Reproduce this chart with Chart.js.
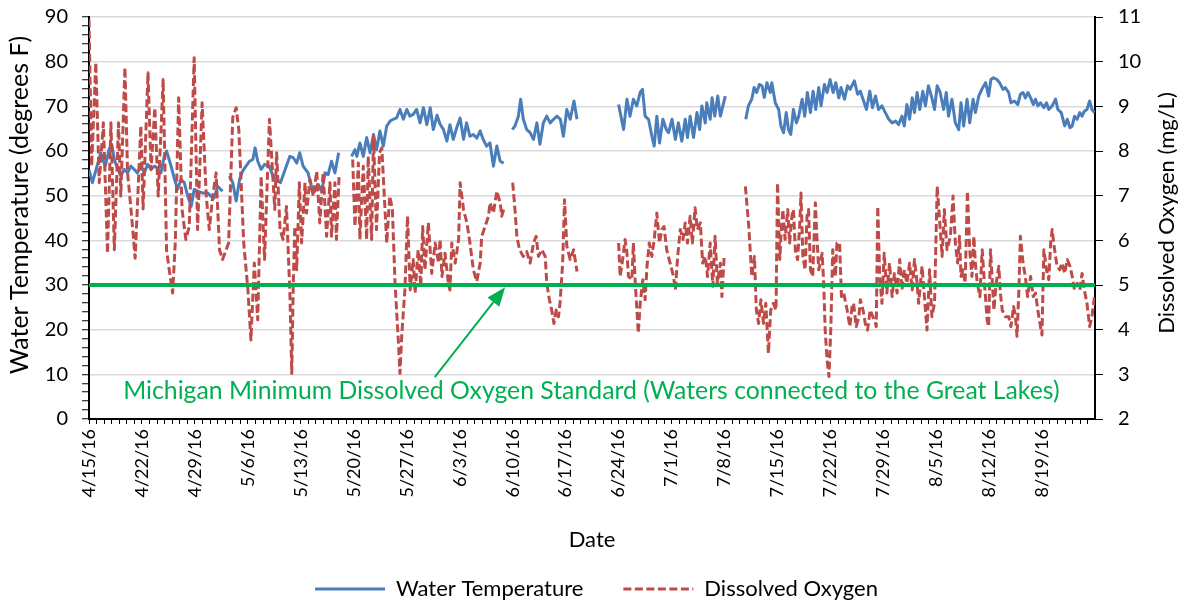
<!DOCTYPE html>
<html>
<head>
<meta charset="utf-8">
<script src="https://cdn.jsdelivr.net/npm/chart.js@4.4.1/dist/chart.umd.min.js"></script>
<style>
  html, body { margin: 0; padding: 0; background: #fff; }
  #wrap { width: 1193px; height: 605px; position: relative; }
</style>
</head>
<body>
<div id="wrap"><canvas id="chart"></canvas></div>
<script>
// -------- data (x = days since 4/15/16, null = logger gap) --------
const startDate = [2016, 3, 15];
const xMaxDay = 132.96;
const tickEveryDays = 7;

// Water temperature, degrees F
const tempReadings = [
  [0.0,55.8],[0.45,52.9],[1.55,59.6],[2.15,56.6],[2.65,60.3],[3.0,61.5],[3.35,58.1],[3.75,56.2],[4.2,54.4],[4.65,55.9],
  [5.1,55.1],[5.55,56.6],[5.95,55.9],[6.4,55.1],[6.85,56.6],[7.3,55.1],[7.75,57.0],[8.2,55.9],[8.65,56.6],[9.1,56.2],
  [9.5,55.1],[9.95,58.8],[10.25,60.0],[10.85,56.6],[11.25,54.0],[11.7,51.4],[12.15,53.6],[12.6,52.9],[13.05,49.9],[13.5,47.6],
  [13.9,51.4],[14.35,51.0],[15.0,50.6],[15.7,50.6],[16.1,49.9],[16.55,49.5],[17.0,52.1],[17.65,51.0],[18.1,null],[18.55,54.4],
  [19.0,52.9],[19.45,48.8],[19.9,53.6],[20.3,55.5],[20.75,56.6],[21.2,57.7],[21.65,58.1],[21.95,60.7],[22.3,57.7],[22.75,55.9],
  [23.2,57.0],[23.85,56.6],[24.3,54.4],[25.3,52.9],[26.55,58.8],[27.0,58.5],[27.45,57.3],[27.85,59.6],[28.3,56.6],[28.95,55.1],
  [29.4,52.1],[29.85,51.0],[30.3,52.5],[30.75,51.0],[31.2,55.1],[31.6,54.7],[32.05,57.7],[32.5,55.1],[33.0,59.6],[33.8,null],
  [34.7,58.8],[35.15,60.3],[35.4,58.8],[35.8,61.8],[36.25,58.8],[36.7,63.0],[37.15,59.6],[37.6,63.7],[38.0,60.3],[38.45,64.5],
  [38.9,61.1],[39.35,65.6],[39.8,66.7],[40.2,67.1],[40.65,67.4],[41.1,69.3],[41.55,67.1],[42.0,69.3],[42.4,67.8],[42.85,68.2],
  [43.3,69.3],[43.75,66.3],[44.2,69.7],[44.65,65.9],[45.1,69.7],[45.5,64.8],[46.0,68.0],[46.4,66.0],[46.85,64.8],[47.3,62.2],
  [47.7,65.9],[48.15,62.6],[48.6,65.2],[49.05,67.4],[49.5,62.6],[49.9,66.3],[50.35,63.3],[50.8,63.7],[51.25,62.9],[51.7,64.5],
  [52.1,62.6],[52.55,61.1],[53.0,61.8],[53.45,56.6],[53.9,61.1],[54.35,57.7],[54.8,57.3],[55.4,null],[55.95,64.8],[56.3,65.6],
  [56.75,67.8],[57.05,71.6],[57.4,67.1],[57.85,64.8],[58.3,64.1],[58.75,62.6],[59.2,66.3],[59.6,61.5],[60.05,66.3],[60.5,67.8],
  [60.95,66.3],[61.4,67.1],[61.85,67.8],[62.3,67.1],[62.7,63.3],[63.15,69.3],[63.6,67.1],[64.1,71.2],[64.5,67.1],[67.0,null],
  [70.0,70.4],[70.3,67.8],[70.65,64.8],[71.1,71.6],[71.5,67.8],[71.95,71.6],[72.4,70.1],[72.85,73.1],[73.15,73.8],[73.5,67.8],
  [73.95,67.1],[74.4,63.3],[74.7,61.1],[75.05,67.8],[75.4,61.8],[75.85,67.1],[76.3,64.8],[76.6,64.1],[77.05,67.1],[77.5,62.6],
  [77.9,66.3],[78.35,62.2],[78.8,67.1],[79.1,63.0],[79.45,67.8],[79.9,63.0],[80.35,68.6],[80.7,64.8],[81.0,70.1],[81.45,66.3],
  [81.65,70.8],[82.1,67.1],[82.35,71.9],[82.7,67.8],[83.1,72.3],[83.45,67.8],[84.1,72.3],[85.5,null],[86.8,67.1],[87.15,70.1],
  [87.6,71.6],[87.9,74.2],[88.25,73.1],[88.6,74.9],[88.95,74.6],[89.25,72.0],[89.6,75.3],[90.05,73.1],[90.25,75.3],[90.7,70.8],
  [91.15,69.3],[91.45,65.6],[91.8,64.1],[92.15,68.6],[92.45,64.8],[92.75,63.7],[93.1,69.3],[93.5,66.3],[93.8,67.8],[94.25,71.6],
  [94.6,67.8],[94.95,73.1],[95.35,68.6],[95.7,73.4],[96.05,69.3],[96.45,74.2],[96.75,70.1],[97.2,74.9],[97.55,73.1],[97.95,76.0],
  [98.35,73.1],[98.7,75.3],[99.1,71.9],[99.4,74.2],[99.85,71.6],[100.25,74.6],[100.6,73.8],[101.15,75.7],[101.6,72.7],[101.95,73.4],
  [102.3,71.6],[102.75,69.3],[103.2,73.4],[103.55,69.7],[103.95,72.3],[104.35,69.3],[104.8,70.1],[105.25,68.6],[105.7,67.1],[106.15,66.3],
  [106.6,66.7],[107.0,65.9],[107.45,67.8],[107.75,65.6],[108.1,70.4],[108.45,67.1],[108.8,71.9],[109.1,68.6],[109.45,73.1],[109.8,69.3],
  [110.2,73.4],[110.55,70.1],[110.95,74.6],[111.4,71.9],[111.75,69.3],[112.1,74.6],[112.5,73.1],[112.95,69.3],[113.3,73.1],[113.6,67.8],
  [114.05,71.6],[114.5,66.3],[114.95,64.8],[115.25,70.8],[115.6,65.6],[116.05,71.6],[116.4,66.3],[116.85,71.6],[117.15,68.6],[117.6,72.3],
  [118.0,73.8],[118.5,75.3],[118.9,72.3],[119.2,76.0],[119.55,76.4],[120.0,76.0],[120.35,75.3],[120.8,73.8],[121.1,74.2],[121.55,73.1],
  [121.85,70.8],[122.3,71.2],[122.75,70.4],[123.1,72.7],[123.45,73.1],[123.75,71.9],[124.1,73.1],[124.45,71.9],[124.8,70.4],[125.1,71.6],
  [125.4,70.1],[125.75,70.8],[126.2,69.7],[126.55,70.8],[126.85,69.3],[127.3,70.1],[127.75,71.6],[128.05,69.3],[128.5,68.6],[128.95,65.6],
  [129.3,67.1],[129.65,65.2],[129.95,65.6],[130.25,67.8],[130.6,67.1],[130.95,68.6],[131.25,67.8],[131.55,68.9],[131.9,69.3],[132.25,71.2],
  [132.55,69.3],[132.9,68.6]
];

// Dissolved oxygen, mg/L
const doReadings = [
  [0.0,10.95],[0.35,7.66],[0.9,9.98],[1.35,7.29],[1.9,8.63],[2.45,5.71],[2.9,8.63],[3.35,5.79],[3.9,8.63],[4.2,6.99],
  [4.75,9.87],[5.1,7.51],[5.6,6.6],[6.1,5.6],[6.85,8.56],[7.15,6.7],[7.8,9.75],[8.2,7.58],[8.7,8.97],[9.15,6.99],
  [9.8,9.6],[10.25,5.79],[10.6,5.34],[11.05,4.82],[11.4,5.94],[11.85,9.19],[12.3,6.69],[12.8,6.02],[13.25,6.31],[13.9,10.09],
  [14.35,6.24],[14.95,9.08],[15.5,6.99],[15.9,6.24],[16.35,6.99],[16.8,7.51],[17.25,5.79],[17.65,5.57],[18.45,5.94],[19.0,8.75],
  [19.45,8.97],[19.8,8.48],[20.45,5.94],[21.0,4.9],[21.4,3.77],[21.85,5.49],[22.3,4.22],[22.75,7.44],[23.2,5.57],[23.85,8.71],
  [24.55,6.69],[24.8,7.96],[25.25,6.24],[25.65,6.02],[26.1,6.76],[26.55,4.82],[26.8,3.02],[27.0,5.04],[27.2,6.31],[27.45,5.34],
  [27.8,7.29],[28.1,5.94],[28.55,7.29],[28.75,6.61],[29.2,7.36],[29.65,6.99],[30.1,7.55],[30.5,6.39],[30.95,7.51],[31.4,6.09],
  [31.85,7.29],[32.05,6.09],[32.5,7.29],[32.7,6.02],[33.05,7.44],[33.8,null],[34.85,7.81],[35.15,6.31],[35.6,7.73],[35.8,6.02],
  [36.25,7.66],[36.7,6.02],[36.9,7.88],[37.35,6.02],[37.6,8.33],[38.0,6.24],[38.4,7.96],[38.7,8.07],[39.35,5.94],[39.75,6.99],
  [40.1,6.69],[40.45,5.04],[40.65,4.44],[40.9,3.7],[41.1,3.02],[41.35,3.92],[41.75,4.89],[42.1,6.54],[42.45,4.89],[42.85,5.57],
  [43.1,4.82],[43.5,5.79],[43.85,4.97],[44.1,6.31],[44.4,5.34],[44.85,6.39],[45.3,5.26],[45.75,5.94],[46.2,5.49],[46.4,6.02],
  [46.65,5.19],[47.05,5.71],[47.5,5.04],[47.7,4.89],[47.95,5.94],[48.4,5.49],[48.85,6.02],[49.05,7.29],[49.5,6.69],[49.95,6.39],
  [50.35,5.94],[50.8,5.34],[51.25,5.08],[51.7,5.49],[51.9,6.09],[52.35,6.31],[52.8,6.54],[53.0,6.84],[53.45,6.61],[53.9,7.1],
  [54.35,6.84],[54.55,6.54],[54.8,6.69],[55.4,null],[56.0,7.29],[56.3,6.69],[56.55,6.09],[56.9,5.79],[57.4,5.64],[57.85,5.75],
  [58.3,5.49],[58.75,5.94],[59.1,6.09],[59.4,5.64],[59.85,5.79],[60.3,5.64],[60.5,5.04],[60.85,4.67],[61.15,4.44],[61.45,4.14],
  [61.75,4.44],[62.05,4.29],[62.25,4.59],[62.6,5.49],[62.85,6.91],[63.15,5.87],[63.6,5.57],[64.05,5.79],[64.5,5.3],[67.0,null],
  [70.0,5.94],[70.2,5.19],[70.55,5.6],[70.85,6.02],[71.1,5.71],[71.3,5.19],[71.75,5.12],[71.95,5.94],[72.2,5.04],[72.6,3.92],
  [72.85,4.59],[73.2,5.12],[73.5,4.67],[73.75,5.42],[74.05,5.94],[74.4,5.64],[74.7,6.02],[75.05,6.61],[75.4,5.94],[75.7,6.24],
  [76.0,6.31],[76.35,5.79],[76.8,5.49],[77.25,5.19],[77.5,4.89],[77.8,5.64],[78.15,6.24],[78.5,6.02],[78.8,6.39],[79.1,5.94],
  [79.45,6.54],[79.75,5.94],[80.1,6.73],[80.4,6.24],[80.8,6.39],[81.1,5.49],[81.45,5.64],[81.75,5.19],[82.1,5.94],[82.45,4.97],
  [82.75,6.09],[83.05,5.04],[83.45,5.49],[83.65,4.74],[83.95,5.64],[85.5,null],[86.75,7.21],[87.2,6.31],[87.6,5.19],[87.95,5.64],
  [88.2,4.44],[88.5,4.14],[88.8,4.67],[89.15,4.14],[89.45,4.59],[89.8,3.47],[90.1,4.44],[90.45,4.59],[90.8,4.44],[91.0,7.29],
  [91.3,5.57],[91.45,6.09],[91.7,6.69],[92.0,6.02],[92.35,6.69],[92.6,5.94],[92.9,6.54],[93.1,6.69],[93.35,5.79],[93.65,5.57],
  [93.95,6.39],[94.1,7.06],[94.35,5.64],[94.65,5.34],[94.9,6.54],[95.1,6.69],[95.35,5.34],[95.65,5.19],[96.0,6.84],[96.2,6.09],
  [96.45,5.34],[96.65,5.49],[96.9,5.71],[97.1,5.04],[97.3,3.99],[97.55,3.32],[97.8,2.95],[98.05,4.07],[98.3,5.79],[98.65,5.19],
  [98.85,5.94],[99.2,5.94],[99.45,4.74],[99.75,4.82],[100.2,4.44],[100.55,4.07],[100.85,4.52],[101.05,4.59],[101.4,4.07],[101.75,4.29],
  [101.95,4.67],[102.3,4.44],[102.6,4.14],[102.9,3.99],[103.25,4.44],[103.6,4.29],[103.95,4.14],[104.05,4.07],[104.25,6.76],[104.5,5.19],
  [104.8,4.59],[105.1,5.71],[105.45,4.82],[105.8,5.49],[106.15,4.74],[106.45,5.26],[106.8,4.82],[107.15,5.57],[107.45,4.89],[107.75,5.34],
  [108.1,5.04],[108.45,5.49],[108.8,4.89],[109.1,5.57],[109.45,5.04],[109.65,4.59],[110.1,5.42],[110.55,4.44],[110.75,3.99],[111.1,5.34],
  [111.4,4.29],[111.75,4.59],[112.1,7.21],[112.45,6.39],[112.75,5.64],[113.05,6.69],[113.4,5.79],[113.85,6.09],[114.2,6.99],[114.5,5.94],
  [114.8,5.49],[115.05,6.09],[115.25,5.19],[115.5,5.34],[115.8,5.04],[116.1,7.1],[116.4,5.79],[116.7,5.19],[116.95,6.09],[117.15,5.49],
  [117.4,5.04],[117.75,4.74],[118.05,5.79],[118.35,5.04],[118.7,4.22],[118.9,4.07],[119.15,5.79],[119.35,5.19],[119.6,4.44],[119.9,5.04],
  [120.25,5.42],[120.45,4.82],[120.7,4.44],[121.1,4.29],[121.55,4.29],[121.85,4.07],[122.2,4.52],[122.45,4.29],[122.65,3.85],[122.9,4.89],
  [123.1,6.09],[123.45,5.49],[123.75,5.19],[124.05,4.74],[124.45,5.19],[124.8,4.74],[125.1,4.82],[125.4,4.44],[125.75,4.07],[125.95,3.88],
  [126.2,5.79],[126.55,5.34],[126.85,5.12],[127.1,5.94],[127.3,6.24],[127.5,5.94],[127.75,5.64],[127.95,5.42],[128.3,5.34],[128.6,5.49],
  [128.95,5.26],[129.3,5.57],[129.65,5.42],[129.95,5.19],[130.25,4.89],[130.6,5.04],[130.95,4.89],[131.25,5.26],[131.55,4.89],[131.9,4.59],
  [132.25,4.07],[132.55,4.29],[132.9,4.74]
];

// Michigan minimum DO standard, mg/L
const standardDO = 5;
const standardLabel = 'Michigan Minimum Dissolved Oxygen Standard (Waters connected to the Great Lakes)';
// arrow from the caption up to the standard line: [day, mg/L]
const arrowTail = [45.7, 2.94];
const arrowTip = [55.0, 4.95];
const labelAt = [66.4, 2.45];

// -------- styling --------
const FONT = 'Lato, "Open Sans", sans-serif';
const BLUE = '#4A7EBB';
const RED = '#BE4B48';
const GREEN = '#00B050';
const GRID = '#D9D9D9';

function dateLabel(v) {
  if (Math.abs(v % tickEveryDays) > 1e-6) return '';
  const d = new Date(startDate[0], startDate[1], startDate[2] + Math.round(v));
  return `${d.getMonth() + 1}/${d.getDate()}/${String(d.getFullYear()).slice(2)}`;
}

const toXY = rows => rows.map(([x, y]) => ({ x, y }));

// fixed-width value axes; drop the label overflow padding so the plot keeps its top edge
function fixAxis(width) {
  return s => {
    s.width = width;
    s.paddingTop = 0;
    s.paddingBottom = 0;
  };
}

// vertical text helper (both axis titles read bottom-to-top, like the original)
function vText(ctx, text, x, y, size) {
  ctx.save();
  ctx.translate(x, y);
  ctx.rotate(-Math.PI / 2);
  ctx.font = `${size}px ${FONT}`;
  ctx.fillStyle = '#000';
  ctx.textAlign = 'center';
  ctx.textBaseline = 'middle';
  ctx.fillText(text, 0, 0);
  ctx.restore();
}

// legend samples take the dataset's own line style (dash included)
function legendLabels(chart) {
  return Chart.defaults.plugins.legend.labels.generateLabels(chart).map(item => {
    const ds = chart.data.datasets[item.datasetIndex];
    item.strokeStyle = ds.borderColor;
    item.lineWidth = ds.borderWidth;
    item.lineDash = ds.borderDash || [];
    return item;
  });
}

// Draws the standard's caption, its arrow and both axis titles
const extras = {
  id: 'extras',
  afterDatasetsDraw(chart) {
    const { ctx, scales: { x, y2 } } = chart;
    ctx.save();
    ctx.fillStyle = GREEN;
    ctx.strokeStyle = GREEN;

    // caption, sized to span the plot like the original
    let size = 23;
    ctx.font = `${size}px ${FONT}`;
    const w = ctx.measureText(standardLabel).width;
    size = Math.min(26, size * 937 / w);
    ctx.font = `${size}px ${FONT}`;
    ctx.textAlign = 'center';
    ctx.textBaseline = 'alphabetic';
    ctx.fillText(standardLabel, x.getPixelForValue(labelAt[0]), y2.getPixelForValue(labelAt[1]));

    // arrow
    const ax = x.getPixelForValue(arrowTail[0]), ay = y2.getPixelForValue(arrowTail[1]);
    const bx = x.getPixelForValue(arrowTip[0]), by = y2.getPixelForValue(arrowTip[1]);
    const ang = Math.atan2(by - ay, bx - ax);
    const headLen = 19, headHalf = 7.5;
    const baseX = bx - headLen * Math.cos(ang), baseY = by - headLen * Math.sin(ang);
    ctx.lineWidth = 2;
    ctx.beginPath();
    ctx.moveTo(ax, ay);
    ctx.lineTo(baseX, baseY);
    ctx.stroke();
    ctx.beginPath();
    ctx.moveTo(bx, by);
    ctx.lineTo(baseX + headHalf * Math.sin(ang), baseY - headHalf * Math.cos(ang));
    ctx.lineTo(baseX - headHalf * Math.sin(ang), baseY + headHalf * Math.cos(ang));
    ctx.closePath();
    ctx.fill();
    ctx.restore();
  },
  afterDraw(chart) {
    const { ctx } = chart;
    vText(ctx, 'Water Temperature (degrees F)', 20, 205, 25);
    vText(ctx, 'Dissolved Oxygen (mg/L)', 1167, 213, 22);
  }
};

new Chart(document.getElementById('chart'), {
  type: 'line',
  data: {
    datasets: [
      {
        label: 'Water Temperature',
        data: toXY(tempReadings),
        yAxisID: 'y',
        borderColor: BLUE,
        backgroundColor: BLUE,
        borderWidth: 3,
        borderJoinStyle: 'round',
        pointRadius: 0,
        order: 2
      },
      {
        label: 'Dissolved Oxygen',
        data: toXY(doReadings),
        yAxisID: 'y2',
        borderColor: RED,
        backgroundColor: RED,
        borderWidth: 3,
        borderDash: [8, 3.5],
        borderJoinStyle: 'round',
        pointRadius: 0,
        order: 1
      },
      {
        label: 'standard',
        data: [{ x: 0, y: standardDO }, { x: xMaxDay, y: standardDO }],
        yAxisID: 'y2',
        borderColor: GREEN,
        borderWidth: 4,
        pointRadius: 0,
        order: 0
      }
    ]
  },
  options: {
    animation: false,
    responsive: true,
    maintainAspectRatio: false,
    layout: { padding: { top: 17, left: 0, right: 0, bottom: -5 } },
    plugins: {
      tooltip: { enabled: false },
      legend: {
        position: 'bottom',
        labels: {
          usePointStyle: true,
          pointStyle: 'line',
          pointStyleWidth: 70,
          padding: 40,
          color: '#000',
          font: { family: FONT, size: 22 },
          generateLabels: legendLabels,
          filter: item => item.datasetIndex < 2,
          sort: (a, b) => a.datasetIndex - b.datasetIndex
        }
      }
    },
    scales: {
      x: {
        type: 'linear',
        min: 0,
        max: xMaxDay,
        afterFit: s => { s.height = 119; },
        border: { color: '#000', width: 2 },
        grid: { drawOnChartArea: false, tickLength: 5, tickColor: '#000', tickWidth: 1 },
        ticks: {
          stepSize: 1,
          autoSkip: false,
          includeBounds: false,
          maxRotation: 90,
          minRotation: 90,
          padding: 5,
          color: '#000',
          font: { family: FONT, size: 18 },
          callback: v => dateLabel(v)
        },
        title: {
          display: true,
          text: 'Date',
          color: '#000',
          font: { family: FONT, size: 22 },
          padding: { top: 0, bottom: -15 }
        }
      },
      y: {
        position: 'left',
        min: 0,
        max: 90,
        afterFit: fixAxis(89),
        border: { color: '#000', width: 2 },
        grid: {
          color: c => (c.tick && c.tick.value % 10 === 0) ? GRID : 'rgba(0,0,0,0)',
          lineWidth: 1.5,
          tickColor: '#000',
          tickLength: 7,
          tickWidth: 1
        },
        ticks: {
          stepSize: 2,
          autoSkip: false,
          padding: 14,
          color: '#000',
          font: { family: FONT, size: 20 },
          callback: v => (v % 10 === 0 ? v : '')
        }
      },
      y2: {
        position: 'right',
        min: 2,
        max: 11,
        afterFit: fixAxis(98),
        border: { color: '#000', width: 2 },
        grid: { drawOnChartArea: false, tickColor: '#000', tickLength: 8, tickWidth: 1 },
        ticks: {
          stepSize: 1,
          padding: 15,
          color: '#000',
          font: { family: FONT, size: 20 }
        }
      }
    }
  },
  plugins: [extras]
});
</script>
</body>
</html>
